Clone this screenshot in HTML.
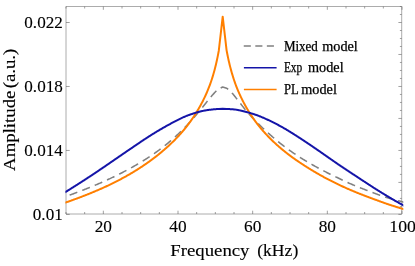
<!DOCTYPE html>
<html><head><meta charset="utf-8"><title>plot</title>
<style>html,body{margin:0;padding:0;background:#fff;}body{width:415px;height:266px;overflow:hidden;position:relative;font-family:"Liberation Serif",serif;}</style></head>
<body>
<svg width="415" height="266" viewBox="0 0 415 266" style="position:absolute;left:0;top:0;will-change:transform">
<rect x="0" y="0" width="415" height="266" fill="#fff"/>
<defs><clipPath id="c"><rect x="65.4" y="6.5" width="337.9" height="207.5"/></clipPath></defs>
<g stroke="#666" stroke-width="0.55" fill="none">
<path d="M66.0,6.5H401.7M66.0,214.0H401.7M66.0,6.5V214.0M401.7,6.5V214.0"/>
<path d="M66.00,214.0v-2.0M66.00,6.5v2.0M84.67,214.0v-2.0M84.67,6.5v2.0M103.33,214.0v-3.3M103.33,6.5v3.3M122.00,214.0v-2.0M122.00,6.5v2.0M140.67,214.0v-2.0M140.67,6.5v2.0M159.33,214.0v-2.0M159.33,6.5v2.0M178.00,214.0v-3.3M178.00,6.5v3.3M196.67,214.0v-2.0M196.67,6.5v2.0M215.33,214.0v-2.0M215.33,6.5v2.0M234.00,214.0v-2.0M234.00,6.5v2.0M252.66,214.0v-3.3M252.66,6.5v3.3M271.33,214.0v-2.0M271.33,6.5v2.0M290.00,214.0v-2.0M290.00,6.5v2.0M308.66,214.0v-2.0M308.66,6.5v2.0M327.33,214.0v-3.3M327.33,6.5v3.3M346.00,214.0v-2.0M346.00,6.5v2.0M364.66,214.0v-2.0M364.66,6.5v2.0M383.33,214.0v-2.0M383.33,6.5v2.0M402.00,214.0v-3.3M402.00,6.5v3.3M401.7,214.40h-3.3M66.0,214.40h3.7M401.7,206.41h-1.8M401.7,198.41h-1.8M401.7,190.42h-1.8M401.7,182.42h-3.3M401.7,174.42h-1.8M401.7,166.43h-1.8M401.7,158.43h-1.8M401.7,150.44h-3.3M66.0,150.44h3.7M401.7,142.44h-1.8M401.7,134.44h-1.8M401.7,126.45h-1.8M401.7,118.45h-3.3M401.7,110.46h-1.8M401.7,102.46h-1.8M401.7,94.46h-1.8M401.7,86.47h-3.3M66.0,86.47h3.7M401.7,78.47h-1.8M401.7,70.48h-1.8M401.7,62.48h-1.8M401.7,54.48h-3.3M401.7,46.49h-1.8M401.7,38.49h-1.8M401.7,30.50h-1.8M401.7,22.50h-3.3M66.0,22.50h3.7M401.7,14.50h-1.8M401.7,6.51h-1.8" stroke-width="0.62"/>
</g>
<g clip-path="url(#c)" fill="none" stroke-linejoin="round">
<path d="M65.00,196.76 L65.50,196.59 L66.00,196.42 L66.50,196.25 L67.00,196.08 L67.50,195.91 L68.00,195.73 L68.50,195.55 L69.00,195.37 L69.50,195.19 L70.00,195.01 L70.50,194.83 L71.00,194.64 L71.50,194.46 L72.00,194.27 L72.50,194.08 L73.00,193.90 L73.50,193.71 L74.00,193.52 L74.50,193.33 L75.00,193.14 L75.50,192.95 L76.00,192.76 L76.50,192.57 L77.00,192.38 L77.50,192.19 L78.00,192.00 L78.50,191.81 L79.00,191.63 L79.50,191.44 L80.00,191.25 L80.50,191.06 L81.00,190.87 L81.50,190.68 L82.00,190.48 L82.50,190.29 L83.00,190.10 L83.50,189.91 L84.00,189.71 L84.50,189.52 L85.00,189.32 L85.50,189.13 L86.00,188.93 L86.50,188.73 L87.00,188.54 L87.50,188.34 L88.00,188.14 L88.50,187.94 L89.00,187.74 L89.50,187.54 L90.00,187.34 L90.50,187.13 L91.00,186.93 L91.50,186.73 L92.00,186.52 L92.50,186.32 L93.00,186.11 L93.50,185.90 L94.00,185.69 L94.50,185.49 L95.00,185.28 L95.50,185.07 L96.00,184.85 L96.50,184.64 L97.00,184.43 L97.50,184.22 L98.00,184.00 L98.50,183.79 L99.00,183.57 L99.50,183.35 L100.00,183.13 L100.50,182.92 L101.00,182.70 L101.50,182.48 L102.00,182.26 L102.50,182.03 L103.00,181.81 L103.50,181.59 L104.00,181.36 L104.50,181.14 L105.00,180.91 L105.50,180.69 L106.00,180.46 L106.50,180.23 L107.00,180.00 L107.50,179.77 L108.00,179.54 L108.50,179.31 L109.00,179.07 L109.50,178.84 L110.00,178.61 L110.50,178.37 L111.00,178.13 L111.50,177.90 L112.00,177.66 L112.50,177.42 L113.00,177.18 L113.50,176.94 L114.00,176.70 L114.50,176.45 L115.00,176.21 L115.50,175.97 L116.00,175.72 L116.50,175.47 L117.00,175.23 L117.50,174.98 L118.00,174.73 L118.50,174.48 L119.00,174.23 L119.50,173.98 L120.00,173.72 L120.50,173.47 L121.00,173.21 L121.50,172.96 L122.00,172.70 L122.50,172.44 L123.00,172.19 L123.50,171.93 L124.00,171.66 L124.50,171.40 L125.00,171.14 L125.50,170.88 L126.00,170.61 L126.50,170.34 L127.00,170.08 L127.50,169.81 L128.00,169.54 L128.50,169.27 L129.00,169.00 L129.50,168.73 L130.00,168.45 L130.50,168.18 L131.00,167.90 L131.50,167.63 L132.00,167.35 L132.50,167.07 L133.00,166.79 L133.50,166.51 L134.00,166.22 L134.50,165.94 L135.00,165.65 L135.50,165.36 L136.00,165.08 L136.50,164.79 L137.00,164.50 L137.50,164.20 L138.00,163.91 L138.50,163.61 L139.00,163.32 L139.50,163.02 L140.00,162.72 L140.50,162.42 L141.00,162.11 L141.50,161.81 L142.00,161.50 L142.50,161.20 L143.00,160.89 L143.50,160.58 L144.00,160.27 L144.50,159.95 L145.00,159.64 L145.50,159.32 L146.00,159.00 L146.50,158.68 L147.00,158.36 L147.50,158.04 L148.00,157.71 L148.50,157.38 L149.00,157.05 L149.50,156.72 L150.00,156.39 L150.50,156.06 L151.00,155.72 L151.50,155.38 L152.00,155.04 L152.50,154.70 L153.00,154.36 L153.50,154.01 L154.00,153.66 L154.50,153.32 L155.00,152.96 L155.50,152.61 L156.00,152.25 L156.50,151.90 L157.00,151.54 L157.50,151.17 L158.00,150.81 L158.50,150.44 L159.00,150.08 L159.50,149.70 L160.00,149.33 L160.50,148.96 L161.00,148.58 L161.50,148.20 L162.00,147.82 L162.50,147.43 L163.00,147.05 L163.50,146.66 L164.00,146.26 L164.50,145.87 L165.00,145.47 L165.50,145.08 L166.00,144.67 L166.50,144.27 L167.00,143.86 L167.50,143.45 L168.00,143.04 L168.50,142.63 L169.00,142.21 L169.50,141.79 L170.00,141.37 L170.50,140.94 L171.00,140.51 L171.50,140.08 L172.00,139.65 L172.50,139.21 L173.00,138.77 L173.50,138.33 L174.00,137.88 L174.50,137.44 L175.00,136.98 L175.50,136.53 L176.00,136.07 L176.50,135.61 L177.00,135.15 L177.50,134.68 L178.00,134.21 L178.50,133.74 L179.00,133.26 L179.50,132.78 L180.00,132.30 L180.50,131.81 L181.00,131.33 L181.50,130.83 L182.00,130.34 L182.50,129.84 L183.00,129.34 L183.50,128.83 L184.00,128.32 L184.50,127.81 L185.00,127.30 L185.50,126.78 L186.00,126.26 L186.50,125.73 L187.00,125.20 L187.50,124.67 L188.00,124.13 L188.50,123.59 L189.00,123.05 L189.50,122.51 L190.00,121.96 L190.50,121.41 L191.00,120.85 L191.50,120.29 L192.00,119.73 L192.50,119.17 L193.00,118.60 L193.50,118.03 L194.00,117.45 L194.50,116.88 L195.00,116.30 L195.50,115.71 L196.00,115.13 L196.50,114.54 L197.00,113.95 L197.50,113.35 L198.00,112.76 L198.50,112.16 L199.00,111.56 L199.50,110.95 L200.00,110.35 L200.50,109.74 L201.00,109.13 L201.50,108.51 L202.00,107.90 L202.50,107.28 L203.00,106.65 L203.50,106.03 L204.00,105.41 L204.50,104.78 L205.00,104.15 L205.50,103.52 L206.00,102.90 L206.50,102.27 L207.00,101.64 L207.50,101.02 L208.00,100.40 L208.50,99.78 L209.00,99.16 L209.50,98.55 L210.00,97.95 L210.50,97.35 L211.00,96.75 L211.50,96.16 L212.00,95.58 L212.50,95.01 L213.00,94.45 L213.50,93.89 L214.00,93.35 L214.50,92.82 L215.00,92.29 L215.50,91.79 L216.00,91.29 L216.50,90.82 L217.00,90.36 L217.50,89.92 L218.00,89.50 L218.50,89.10 L218.80,88.87 L222.70,87.00 L226.60,88.27 L226.90,88.46 L227.20,88.65 L227.70,88.99 L228.20,89.35 L228.70,89.74 L229.20,90.16 L229.70,90.60 L230.20,91.07 L230.70,91.57 L231.20,92.09 L231.70,92.63 L232.20,93.19 L232.70,93.77 L233.20,94.36 L233.70,94.97 L234.20,95.58 L234.70,96.21 L235.20,96.84 L235.70,97.48 L236.20,98.11 L236.70,98.75 L237.20,99.39 L237.70,100.03 L238.20,100.66 L238.70,101.29 L239.20,101.93 L239.70,102.57 L240.20,103.21 L240.70,103.85 L241.20,104.48 L241.70,105.12 L242.20,105.76 L242.70,106.39 L243.20,107.02 L243.70,107.65 L244.20,108.27 L244.70,108.89 L245.20,109.50 L245.70,110.11 L246.20,110.70 L246.70,111.30 L247.20,111.88 L247.70,112.46 L248.20,113.04 L248.70,113.61 L249.20,114.17 L249.70,114.73 L250.20,115.28 L250.70,115.83 L251.20,116.38 L251.70,116.92 L252.20,117.45 L252.70,117.99 L253.20,118.52 L253.70,119.04 L254.20,119.56 L254.70,120.08 L255.20,120.60 L255.70,121.11 L256.20,121.62 L256.70,122.13 L257.20,122.64 L257.70,123.14 L258.20,123.65 L258.70,124.15 L259.20,124.64 L259.70,125.13 L260.20,125.62 L260.70,126.10 L261.20,126.58 L261.70,127.05 L262.20,127.52 L262.70,127.99 L263.20,128.46 L263.70,128.92 L264.20,129.38 L264.70,129.84 L265.20,130.29 L265.70,130.75 L266.20,131.20 L266.70,131.65 L267.20,132.10 L267.70,132.56 L268.20,133.01 L268.70,133.46 L269.20,133.91 L269.70,134.36 L270.20,134.81 L270.70,135.26 L271.20,135.70 L271.70,136.15 L272.20,136.59 L272.70,137.02 L273.20,137.46 L273.70,137.89 L274.20,138.32 L274.70,138.75 L275.20,139.17 L275.70,139.59 L276.20,140.01 L276.70,140.43 L277.20,140.84 L277.70,141.25 L278.20,141.66 L278.70,142.07 L279.20,142.47 L279.70,142.87 L280.20,143.27 L280.70,143.67 L281.20,144.06 L281.70,144.45 L282.20,144.84 L282.70,145.23 L283.20,145.61 L283.70,146.00 L284.20,146.38 L284.70,146.76 L285.20,147.13 L285.70,147.51 L286.20,147.88 L286.70,148.25 L287.20,148.61 L287.70,148.98 L288.20,149.34 L288.70,149.70 L289.20,150.06 L289.70,150.42 L290.20,150.77 L290.70,151.13 L291.20,151.48 L291.70,151.83 L292.20,152.17 L292.70,152.52 L293.20,152.86 L293.70,153.21 L294.20,153.54 L294.70,153.88 L295.20,154.22 L295.70,154.55 L296.20,154.89 L296.70,155.22 L297.20,155.55 L297.70,155.87 L298.20,156.20 L298.70,156.52 L299.20,156.84 L299.70,157.16 L300.20,157.48 L300.70,157.80 L301.20,158.12 L301.70,158.43 L302.20,158.74 L302.70,159.05 L303.20,159.36 L303.70,159.67 L304.20,159.98 L304.70,160.28 L305.20,160.58 L305.70,160.88 L306.20,161.18 L306.70,161.48 L307.20,161.78 L307.70,162.08 L308.20,162.37 L308.70,162.66 L309.20,162.95 L309.70,163.24 L310.20,163.53 L310.70,163.82 L311.20,164.11 L311.70,164.39 L312.20,164.68 L312.70,164.96 L313.20,165.24 L313.70,165.52 L314.20,165.80 L314.70,166.08 L315.20,166.35 L315.70,166.63 L316.20,166.91 L316.70,167.18 L317.20,167.45 L317.70,167.72 L318.20,167.99 L318.70,168.26 L319.20,168.53 L319.70,168.80 L320.20,169.07 L320.70,169.33 L321.20,169.60 L321.70,169.86 L322.20,170.12 L322.70,170.38 L323.20,170.64 L323.70,170.90 L324.20,171.16 L324.70,171.42 L325.20,171.67 L325.70,171.93 L326.20,172.18 L326.70,172.44 L327.20,172.69 L327.70,172.94 L328.20,173.19 L328.70,173.44 L329.20,173.69 L329.70,173.94 L330.20,174.19 L330.70,174.43 L331.20,174.68 L331.70,174.92 L332.20,175.16 L332.70,175.41 L333.20,175.65 L333.70,175.89 L334.20,176.13 L334.70,176.37 L335.20,176.61 L335.70,176.84 L336.20,177.08 L336.70,177.32 L337.20,177.56 L337.70,177.80 L338.20,178.05 L338.70,178.29 L339.20,178.53 L339.70,178.77 L340.20,179.01 L340.70,179.25 L341.20,179.49 L341.70,179.73 L342.20,179.97 L342.70,180.21 L343.20,180.45 L343.70,180.68 L344.20,180.92 L344.70,181.15 L345.20,181.39 L345.70,181.62 L346.20,181.85 L346.70,182.08 L347.20,182.31 L347.70,182.54 L348.20,182.76 L348.70,182.98 L349.20,183.21 L349.70,183.42 L350.20,183.64 L350.70,183.86 L351.20,184.07 L351.70,184.28 L352.20,184.50 L352.70,184.71 L353.20,184.92 L353.70,185.13 L354.20,185.34 L354.70,185.54 L355.20,185.75 L355.70,185.96 L356.20,186.16 L356.70,186.37 L357.20,186.57 L357.70,186.77 L358.20,186.97 L358.70,187.17 L359.20,187.37 L359.70,187.57 L360.20,187.77 L360.70,187.97 L361.20,188.17 L361.70,188.36 L362.20,188.56 L362.70,188.75 L363.20,188.95 L363.70,189.14 L364.20,189.34 L364.70,189.53 L365.20,189.72 L365.70,189.91 L366.20,190.10 L366.70,190.29 L367.20,190.49 L367.70,190.68 L368.20,190.87 L368.70,191.05 L369.20,191.24 L369.70,191.43 L370.20,191.62 L370.70,191.81 L371.20,192.00 L371.70,192.19 L372.20,192.38 L372.70,192.56 L373.20,192.75 L373.70,192.94 L374.20,193.13 L374.70,193.32 L375.20,193.50 L375.70,193.69 L376.20,193.88 L376.70,194.06 L377.20,194.25 L377.70,194.43 L378.20,194.62 L378.70,194.80 L379.20,194.98 L379.70,195.16 L380.20,195.34 L380.70,195.52 L381.20,195.69 L381.70,195.87 L382.20,196.04 L382.70,196.22 L383.20,196.39 L383.70,196.56 L384.20,196.72 L384.70,196.89 L385.20,197.05 L385.70,197.22 L386.20,197.37 L386.70,197.53 L387.20,197.68 L387.70,197.83 L388.20,197.98 L388.70,198.13 L389.20,198.27 L389.70,198.41 L390.20,198.55 L390.70,198.69 L391.20,198.83 L391.70,198.97 L392.20,199.11 L392.70,199.24 L393.20,199.38 L393.70,199.52 L394.20,199.65 L394.70,199.79 L395.20,199.92 L395.70,200.06 L396.20,200.19 L396.70,200.31 L397.20,200.44 L397.70,200.56 L398.20,200.69 L398.70,200.81 L399.20,200.94 L399.70,201.06 L400.20,201.19 L400.70,201.33 L401.20,201.46 L401.70,201.60 L402.20,201.75 L402.70,201.90 L403.20,202.05 L403.70,202.20 L404.20,202.34" stroke="#808080" stroke-width="1.55" stroke-dasharray="8.2 5.255" stroke-dashoffset="8.545"/>
<path d="M65.00,202.75 L65.50,202.58 L66.00,202.41 L66.50,202.23 L67.00,202.06 L67.50,201.88 L68.00,201.71 L68.50,201.53 L69.00,201.35 L69.50,201.18 L70.00,201.00 L70.50,200.82 L71.00,200.64 L71.50,200.46 L72.00,200.28 L72.50,200.10 L73.00,199.92 L73.50,199.74 L74.00,199.56 L74.50,199.38 L75.00,199.19 L75.50,199.01 L76.00,198.82 L76.50,198.64 L77.00,198.45 L77.50,198.27 L78.00,198.08 L78.50,197.89 L79.00,197.70 L79.50,197.52 L80.00,197.33 L80.50,197.14 L81.00,196.95 L81.50,196.75 L82.00,196.56 L82.50,196.37 L83.00,196.18 L83.50,195.98 L84.00,195.79 L84.50,195.59 L85.00,195.40 L85.50,195.20 L86.00,195.00 L86.50,194.81 L87.00,194.61 L87.50,194.41 L88.00,194.21 L88.50,194.01 L89.00,193.81 L89.50,193.60 L90.00,193.40 L90.50,193.20 L91.00,192.99 L91.50,192.79 L92.00,192.58 L92.50,192.38 L93.00,192.17 L93.50,191.96 L94.00,191.75 L94.50,191.54 L95.00,191.33 L95.50,191.12 L96.00,190.91 L96.50,190.70 L97.00,190.49 L97.50,190.27 L98.00,190.06 L98.50,189.84 L99.00,189.62 L99.50,189.41 L100.00,189.19 L100.50,188.97 L101.00,188.75 L101.50,188.53 L102.00,188.31 L102.50,188.08 L103.00,187.86 L103.50,187.63 L104.00,187.41 L104.50,187.18 L105.00,186.95 L105.50,186.72 L106.00,186.49 L106.50,186.25 L107.00,186.02 L107.50,185.79 L108.00,185.55 L108.50,185.31 L109.00,185.08 L109.50,184.84 L110.00,184.60 L110.50,184.35 L111.00,184.11 L111.50,183.87 L112.00,183.62 L112.50,183.38 L113.00,183.13 L113.50,182.88 L114.00,182.63 L114.50,182.38 L115.00,182.13 L115.50,181.88 L116.00,181.62 L116.50,181.37 L117.00,181.11 L117.50,180.85 L118.00,180.59 L118.50,180.33 L119.00,180.07 L119.50,179.81 L120.00,179.55 L120.50,179.28 L121.00,179.02 L121.50,178.75 L122.00,178.48 L122.50,178.21 L123.00,177.94 L123.50,177.67 L124.00,177.39 L124.50,177.12 L125.00,176.84 L125.50,176.56 L126.00,176.29 L126.50,176.01 L127.00,175.72 L127.50,175.44 L128.00,175.16 L128.50,174.87 L129.00,174.59 L129.50,174.30 L130.00,174.01 L130.50,173.72 L131.00,173.43 L131.50,173.13 L132.00,172.84 L132.50,172.54 L133.00,172.24 L133.50,171.94 L134.00,171.63 L134.50,171.33 L135.00,171.02 L135.50,170.71 L136.00,170.40 L136.50,170.09 L137.00,169.78 L137.50,169.46 L138.00,169.15 L138.50,168.83 L139.00,168.51 L139.50,168.18 L140.00,167.86 L140.50,167.53 L141.00,167.21 L141.50,166.88 L142.00,166.55 L142.50,166.21 L143.00,165.88 L143.50,165.54 L144.00,165.20 L144.50,164.86 L145.00,164.52 L145.50,164.18 L146.00,163.83 L146.50,163.49 L147.00,163.14 L147.50,162.79 L148.00,162.43 L148.50,162.08 L149.00,161.72 L149.50,161.37 L150.00,161.01 L150.50,160.64 L151.00,160.28 L151.50,159.91 L152.00,159.54 L152.50,159.17 L153.00,158.80 L153.50,158.42 L154.00,158.04 L154.50,157.66 L155.00,157.28 L155.50,156.89 L156.00,156.50 L156.50,156.11 L157.00,155.72 L157.50,155.32 L158.00,154.92 L158.50,154.52 L159.00,154.11 L159.50,153.71 L160.00,153.30 L160.50,152.89 L161.00,152.47 L161.50,152.06 L162.00,151.64 L162.50,151.21 L163.00,150.79 L163.50,150.36 L164.00,149.93 L164.50,149.50 L165.00,149.06 L165.50,148.62 L166.00,148.18 L166.50,147.74 L167.00,147.29 L167.50,146.84 L168.00,146.39 L168.50,145.93 L169.00,145.47 L169.50,145.01 L170.00,144.54 L170.50,144.08 L171.00,143.60 L171.50,143.13 L172.00,142.65 L172.50,142.16 L173.00,141.67 L173.50,141.18 L174.00,140.69 L174.50,140.19 L175.00,139.68 L175.50,139.17 L176.00,138.66 L176.50,138.14 L177.00,137.61 L177.50,137.09 L178.00,136.55 L178.50,136.02 L179.00,135.47 L179.50,134.92 L180.00,134.37 L180.50,133.81 L181.00,133.25 L181.50,132.68 L182.00,132.10 L182.50,131.52 L183.00,130.93 L183.50,130.34 L184.00,129.74 L184.50,129.14 L185.00,128.52 L185.50,127.90 L186.00,127.28 L186.50,126.65 L187.00,126.01 L187.50,125.36 L188.00,124.70 L188.50,124.04 L189.00,123.37 L189.50,122.69 L190.00,122.01 L190.50,121.31 L191.00,120.61 L191.50,119.90 L192.00,119.18 L192.50,118.45 L193.00,117.71 L193.50,116.96 L194.00,116.20 L194.50,115.43 L195.00,114.65 L195.50,113.86 L196.00,113.06 L196.50,112.25 L197.00,111.44 L197.50,110.61 L198.00,109.78 L198.50,108.93 L199.00,108.07 L199.50,107.20 L200.00,106.32 L200.50,105.42 L201.00,104.51 L201.50,103.58 L202.00,102.63 L202.50,101.67 L203.00,100.69 L203.50,99.68 L204.00,98.66 L204.50,97.62 L205.00,96.55 L205.50,95.47 L206.00,94.36 L206.50,93.23 L207.00,92.08 L207.50,90.90 L208.00,89.69 L208.50,88.46 L209.00,87.19 L209.50,85.88 L210.00,84.54 L210.50,83.16 L211.00,81.73 L211.50,80.26 L212.00,78.73 L212.50,77.15 L213.00,75.50 L213.50,73.80 L214.00,72.03 L214.50,70.18 L215.00,68.27 L215.50,66.28 L216.00,64.20 L216.50,62.04 L217.00,59.78 L217.50,57.41 L218.00,54.92 L218.50,52.31 L218.80,50.66 L222.70,16.70 L226.60,50.37 L226.90,51.99 L227.20,53.55 L227.70,56.04 L228.20,58.41 L228.70,60.67 L229.20,62.83 L229.70,64.90 L230.20,66.88 L230.70,68.79 L231.20,70.63 L231.70,72.41 L232.20,74.12 L232.70,75.78 L233.20,77.39 L233.70,78.94 L234.20,80.45 L234.70,81.92 L235.20,83.34 L235.70,84.72 L236.20,86.05 L236.70,87.35 L237.20,88.61 L237.70,89.83 L238.20,91.02 L238.70,92.18 L239.20,93.32 L239.70,94.43 L240.20,95.52 L240.70,96.59 L241.20,97.63 L241.70,98.67 L242.20,99.68 L242.70,100.68 L243.20,101.67 L243.70,102.63 L244.20,103.58 L244.70,104.51 L245.20,105.42 L245.70,106.33 L246.20,107.21 L246.70,108.08 L247.20,108.94 L247.70,109.79 L248.20,110.62 L248.70,111.44 L249.20,112.25 L249.70,113.05 L250.20,113.83 L250.70,114.61 L251.20,115.37 L251.70,116.12 L252.20,116.86 L252.70,117.60 L253.20,118.32 L253.70,119.03 L254.20,119.74 L254.70,120.43 L255.20,121.12 L255.70,121.80 L256.20,122.47 L256.70,123.13 L257.20,123.78 L257.70,124.43 L258.20,125.07 L258.70,125.70 L259.20,126.32 L259.70,126.93 L260.20,127.54 L260.70,128.14 L261.20,128.74 L261.70,129.33 L262.20,129.91 L262.70,130.49 L263.20,131.06 L263.70,131.62 L264.20,132.18 L264.70,132.73 L265.20,133.28 L265.70,133.82 L266.20,134.36 L266.70,134.89 L267.20,135.42 L267.70,135.95 L268.20,136.46 L268.70,136.98 L269.20,137.49 L269.70,138.00 L270.20,138.50 L270.70,139.00 L271.20,139.49 L271.70,139.99 L272.20,140.47 L272.70,140.96 L273.20,141.44 L273.70,141.92 L274.20,142.39 L274.70,142.86 L275.20,143.32 L275.70,143.78 L276.20,144.24 L276.70,144.69 L277.20,145.14 L277.70,145.59 L278.20,146.03 L278.70,146.47 L279.20,146.90 L279.70,147.34 L280.20,147.77 L280.70,148.19 L281.20,148.62 L281.70,149.04 L282.20,149.45 L282.70,149.87 L283.20,150.28 L283.70,150.69 L284.20,151.09 L284.70,151.50 L285.20,151.90 L285.70,152.29 L286.20,152.69 L286.70,153.08 L287.20,153.47 L287.70,153.85 L288.20,154.24 L288.70,154.62 L289.20,155.00 L289.70,155.38 L290.20,155.75 L290.70,156.12 L291.20,156.49 L291.70,156.86 L292.20,157.23 L292.70,157.59 L293.20,157.95 L293.70,158.31 L294.20,158.67 L294.70,159.02 L295.20,159.37 L295.70,159.72 L296.20,160.07 L296.70,160.42 L297.20,160.76 L297.70,161.11 L298.20,161.45 L298.70,161.79 L299.20,162.12 L299.70,162.46 L300.20,162.79 L300.70,163.12 L301.20,163.46 L301.70,163.78 L302.20,164.11 L302.70,164.44 L303.20,164.77 L303.70,165.09 L304.20,165.41 L304.70,165.73 L305.20,166.05 L305.70,166.37 L306.20,166.69 L306.70,167.01 L307.20,167.32 L307.70,167.64 L308.20,167.95 L308.70,168.26 L309.20,168.57 L309.70,168.88 L310.20,169.19 L310.70,169.49 L311.20,169.80 L311.70,170.10 L312.20,170.40 L312.70,170.70 L313.20,171.00 L313.70,171.30 L314.20,171.60 L314.70,171.90 L315.20,172.19 L315.70,172.48 L316.20,172.78 L316.70,173.07 L317.20,173.36 L317.70,173.65 L318.20,173.93 L318.70,174.22 L319.20,174.50 L319.70,174.79 L320.20,175.07 L320.70,175.35 L321.20,175.63 L321.70,175.91 L322.20,176.18 L322.70,176.46 L323.20,176.73 L323.70,177.01 L324.20,177.28 L324.70,177.55 L325.20,177.82 L325.70,178.08 L326.20,178.35 L326.70,178.62 L327.20,178.88 L327.70,179.14 L328.20,179.40 L328.70,179.66 L329.20,179.92 L329.70,180.18 L330.20,180.43 L330.70,180.69 L331.20,180.94 L331.70,181.19 L332.20,181.45 L332.70,181.70 L333.20,181.95 L333.70,182.20 L334.20,182.44 L334.70,182.69 L335.20,182.94 L335.70,183.18 L336.20,183.43 L336.70,183.67 L337.20,183.91 L337.70,184.15 L338.20,184.39 L338.70,184.63 L339.20,184.87 L339.70,185.11 L340.20,185.35 L340.70,185.58 L341.20,185.82 L341.70,186.05 L342.20,186.28 L342.70,186.51 L343.20,186.74 L343.70,186.97 L344.20,187.20 L344.70,187.43 L345.20,187.65 L345.70,187.88 L346.20,188.10 L346.70,188.32 L347.20,188.55 L347.70,188.77 L348.20,188.99 L348.70,189.20 L349.20,189.42 L349.70,189.64 L350.20,189.85 L350.70,190.06 L351.20,190.28 L351.70,190.49 L352.20,190.70 L352.70,190.91 L353.20,191.12 L353.70,191.33 L354.20,191.53 L354.70,191.74 L355.20,191.95 L355.70,192.15 L356.20,192.36 L356.70,192.56 L357.20,192.76 L357.70,192.96 L358.20,193.16 L358.70,193.37 L359.20,193.57 L359.70,193.76 L360.20,193.96 L360.70,194.16 L361.20,194.36 L361.70,194.55 L362.20,194.75 L362.70,194.94 L363.20,195.14 L363.70,195.33 L364.20,195.52 L364.70,195.72 L365.20,195.91 L365.70,196.10 L366.20,196.29 L366.70,196.48 L367.20,196.67 L367.70,196.86 L368.20,197.05 L368.70,197.23 L369.20,197.42 L369.70,197.61 L370.20,197.79 L370.70,197.98 L371.20,198.16 L371.70,198.35 L372.20,198.53 L372.70,198.72 L373.20,198.90 L373.70,199.08 L374.20,199.27 L374.70,199.45 L375.20,199.63 L375.70,199.81 L376.20,199.99 L376.70,200.18 L377.20,200.36 L377.70,200.54 L378.20,200.72 L378.70,200.91 L379.20,201.09 L379.70,201.27 L380.20,201.45 L380.70,201.63 L381.20,201.82 L381.70,202.00 L382.20,202.18 L382.70,202.36 L383.20,202.54 L383.70,202.71 L384.20,202.89 L384.70,203.07 L385.20,203.24 L385.70,203.42 L386.20,203.59 L386.70,203.77 L387.20,203.94 L387.70,204.11 L388.20,204.28 L388.70,204.44 L389.20,204.61 L389.70,204.78 L390.20,204.94 L390.70,205.10 L391.20,205.26 L391.70,205.43 L392.20,205.59 L392.70,205.75 L393.20,205.91 L393.70,206.07 L394.20,206.23 L394.70,206.39 L395.20,206.55 L395.70,206.70 L396.20,206.86 L396.70,207.02 L397.20,207.18 L397.70,207.33 L398.20,207.49 L398.70,207.64 L399.20,207.80 L399.70,207.95 L400.20,208.11 L400.70,208.26 L401.20,208.42 L401.70,208.57 L402.20,208.72 L402.70,208.88 L403.20,209.03 L403.70,209.18 L404.20,209.33" stroke="#ff7f00" stroke-width="2.0" stroke-linejoin="round"/>
<path d="M65.00,192.34 L65.50,192.03 L66.00,191.72 L66.50,191.41 L67.00,191.09 L67.50,190.78 L68.00,190.47 L68.50,190.16 L69.00,189.85 L69.50,189.54 L70.00,189.22 L70.50,188.91 L71.00,188.60 L71.50,188.28 L72.00,187.97 L72.50,187.65 L73.00,187.34 L73.50,187.02 L74.00,186.71 L74.50,186.39 L75.00,186.07 L75.50,185.76 L76.00,185.44 L76.50,185.12 L77.00,184.80 L77.50,184.48 L78.00,184.17 L78.50,183.85 L79.00,183.53 L79.50,183.21 L80.00,182.88 L80.50,182.56 L81.00,182.24 L81.50,181.92 L82.00,181.60 L82.50,181.28 L83.00,180.95 L83.50,180.63 L84.00,180.30 L84.50,179.98 L85.00,179.66 L85.50,179.33 L86.00,179.00 L86.50,178.68 L87.00,178.35 L87.50,178.02 L88.00,177.70 L88.50,177.37 L89.00,177.04 L89.50,176.71 L90.00,176.38 L90.50,176.05 L91.00,175.72 L91.50,175.39 L92.00,175.06 L92.50,174.73 L93.00,174.40 L93.50,174.06 L94.00,173.73 L94.50,173.40 L95.00,173.06 L95.50,172.73 L96.00,172.39 L96.50,172.06 L97.00,171.72 L97.50,171.39 L98.00,171.05 L98.50,170.71 L99.00,170.38 L99.50,170.04 L100.00,169.70 L100.50,169.36 L101.00,169.02 L101.50,168.68 L102.00,168.34 L102.50,168.00 L103.00,167.66 L103.50,167.32 L104.00,166.98 L104.50,166.64 L105.00,166.30 L105.50,165.96 L106.00,165.62 L106.50,165.27 L107.00,164.93 L107.50,164.59 L108.00,164.25 L108.50,163.90 L109.00,163.56 L109.50,163.22 L110.00,162.87 L110.50,162.53 L111.00,162.19 L111.50,161.84 L112.00,161.50 L112.50,161.16 L113.00,160.81 L113.50,160.47 L114.00,160.12 L114.50,159.78 L115.00,159.44 L115.50,159.09 L116.00,158.75 L116.50,158.40 L117.00,158.06 L117.50,157.72 L118.00,157.37 L118.50,157.03 L119.00,156.68 L119.50,156.34 L120.00,156.00 L120.50,155.65 L121.00,155.31 L121.50,154.97 L122.00,154.62 L122.50,154.28 L123.00,153.94 L123.50,153.59 L124.00,153.25 L124.50,152.91 L125.00,152.57 L125.50,152.23 L126.00,151.88 L126.50,151.54 L127.00,151.20 L127.50,150.86 L128.00,150.52 L128.50,150.18 L129.00,149.84 L129.50,149.50 L130.00,149.16 L130.50,148.83 L131.00,148.49 L131.50,148.15 L132.00,147.81 L132.50,147.47 L133.00,147.13 L133.50,146.79 L134.00,146.45 L134.50,146.11 L135.00,145.77 L135.50,145.43 L136.00,145.09 L136.50,144.75 L137.00,144.41 L137.50,144.07 L138.00,143.73 L138.50,143.39 L139.00,143.05 L139.50,142.71 L140.00,142.38 L140.50,142.04 L141.00,141.70 L141.50,141.37 L142.00,141.03 L142.50,140.70 L143.00,140.36 L143.50,140.03 L144.00,139.70 L144.50,139.37 L145.00,139.04 L145.50,138.71 L146.00,138.38 L146.50,138.05 L147.00,137.73 L147.50,137.40 L148.00,137.08 L148.50,136.76 L149.00,136.43 L149.50,136.11 L150.00,135.80 L150.50,135.48 L151.00,135.16 L151.50,134.85 L152.00,134.53 L152.50,134.22 L153.00,133.91 L153.50,133.60 L154.00,133.29 L154.50,132.98 L155.00,132.68 L155.50,132.37 L156.00,132.07 L156.50,131.76 L157.00,131.46 L157.50,131.16 L158.00,130.86 L158.50,130.56 L159.00,130.27 L159.50,129.97 L160.00,129.68 L160.50,129.38 L161.00,129.09 L161.50,128.80 L162.00,128.51 L162.50,128.22 L163.00,127.93 L163.50,127.65 L164.00,127.36 L164.50,127.08 L165.00,126.79 L165.50,126.51 L166.00,126.23 L166.50,125.95 L167.00,125.67 L167.50,125.40 L168.00,125.12 L168.50,124.85 L169.00,124.57 L169.50,124.30 L170.00,124.03 L170.50,123.76 L171.00,123.49 L171.50,123.22 L172.00,122.95 L172.50,122.68 L173.00,122.41 L173.50,122.14 L174.00,121.88 L174.50,121.61 L175.00,121.34 L175.50,121.08 L176.00,120.82 L176.50,120.56 L177.00,120.30 L177.50,120.05 L178.00,119.79 L178.50,119.54 L179.00,119.29 L179.50,119.04 L180.00,118.80 L180.50,118.56 L181.00,118.32 L181.50,118.09 L182.00,117.86 L182.50,117.63 L183.00,117.40 L183.50,117.18 L184.00,116.97 L184.50,116.76 L185.00,116.55 L185.50,116.34 L186.00,116.14 L186.50,115.94 L187.00,115.75 L187.50,115.55 L188.00,115.36 L188.50,115.18 L189.00,114.99 L189.50,114.81 L190.00,114.62 L190.50,114.45 L191.00,114.27 L191.50,114.10 L192.00,113.93 L192.50,113.76 L193.00,113.59 L193.50,113.43 L194.00,113.27 L194.50,113.11 L195.00,112.96 L195.50,112.81 L196.00,112.66 L196.50,112.51 L197.00,112.36 L197.50,112.22 L198.00,112.08 L198.50,111.95 L199.00,111.81 L199.50,111.68 L200.00,111.55 L200.50,111.42 L201.00,111.30 L201.50,111.19 L202.00,111.08 L202.50,110.97 L203.00,110.87 L203.50,110.77 L204.00,110.67 L204.50,110.58 L205.00,110.49 L205.50,110.41 L206.00,110.32 L206.50,110.24 L207.00,110.15 L207.50,110.08 L208.00,110.00 L208.50,109.93 L209.00,109.86 L209.50,109.80 L210.00,109.74 L210.50,109.68 L211.00,109.63 L211.50,109.57 L212.00,109.52 L212.50,109.47 L213.00,109.42 L213.50,109.37 L214.00,109.32 L214.50,109.27 L215.00,109.22 L215.50,109.17 L216.00,109.13 L216.50,109.08 L217.00,109.04 L217.50,109.01 L218.00,108.97 L218.50,108.94 L218.80,108.92 L222.70,108.80 L226.60,108.90 L226.90,108.91 L227.20,108.93 L227.70,108.96 L228.20,108.99 L228.70,109.02 L229.20,109.06 L229.70,109.10 L230.20,109.15 L230.70,109.19 L231.20,109.22 L231.70,109.26 L232.20,109.30 L232.70,109.34 L233.20,109.37 L233.70,109.42 L234.20,109.46 L234.70,109.51 L235.20,109.57 L235.70,109.63 L236.20,109.70 L236.70,109.78 L237.20,109.86 L237.70,109.96 L238.20,110.05 L238.70,110.15 L239.20,110.25 L239.70,110.36 L240.20,110.47 L240.70,110.58 L241.20,110.69 L241.70,110.81 L242.20,110.93 L242.70,111.05 L243.20,111.18 L243.70,111.30 L244.20,111.43 L244.70,111.56 L245.20,111.69 L245.70,111.83 L246.20,111.96 L246.70,112.09 L247.20,112.23 L247.70,112.36 L248.20,112.50 L248.70,112.64 L249.20,112.78 L249.70,112.92 L250.20,113.06 L250.70,113.21 L251.20,113.35 L251.70,113.50 L252.20,113.65 L252.70,113.81 L253.20,113.96 L253.70,114.12 L254.20,114.28 L254.70,114.44 L255.20,114.61 L255.70,114.78 L256.20,114.95 L256.70,115.13 L257.20,115.31 L257.70,115.49 L258.20,115.68 L258.70,115.87 L259.20,116.06 L259.70,116.26 L260.20,116.47 L260.70,116.67 L261.20,116.88 L261.70,117.09 L262.20,117.30 L262.70,117.51 L263.20,117.73 L263.70,117.95 L264.20,118.17 L264.70,118.39 L265.20,118.61 L265.70,118.83 L266.20,119.06 L266.70,119.29 L267.20,119.52 L267.70,119.75 L268.20,119.98 L268.70,120.22 L269.20,120.46 L269.70,120.69 L270.20,120.93 L270.70,121.18 L271.20,121.42 L271.70,121.67 L272.20,121.91 L272.70,122.16 L273.20,122.41 L273.70,122.66 L274.20,122.92 L274.70,123.17 L275.20,123.43 L275.70,123.68 L276.20,123.94 L276.70,124.21 L277.20,124.47 L277.70,124.73 L278.20,125.00 L278.70,125.26 L279.20,125.53 L279.70,125.80 L280.20,126.07 L280.70,126.35 L281.20,126.62 L281.70,126.90 L282.20,127.18 L282.70,127.46 L283.20,127.75 L283.70,128.03 L284.20,128.32 L284.70,128.61 L285.20,128.90 L285.70,129.20 L286.20,129.49 L286.70,129.79 L287.20,130.09 L287.70,130.39 L288.20,130.69 L288.70,131.00 L289.20,131.30 L289.70,131.61 L290.20,131.92 L290.70,132.22 L291.20,132.54 L291.70,132.85 L292.20,133.16 L292.70,133.47 L293.20,133.79 L293.70,134.11 L294.20,134.42 L294.70,134.74 L295.20,135.06 L295.70,135.38 L296.20,135.70 L296.70,136.02 L297.20,136.34 L297.70,136.67 L298.20,136.99 L298.70,137.31 L299.20,137.64 L299.70,137.96 L300.20,138.29 L300.70,138.61 L301.20,138.94 L301.70,139.26 L302.20,139.59 L302.70,139.92 L303.20,140.25 L303.70,140.58 L304.20,140.91 L304.70,141.24 L305.20,141.58 L305.70,141.91 L306.20,142.24 L306.70,142.58 L307.20,142.91 L307.70,143.25 L308.20,143.58 L308.70,143.92 L309.20,144.26 L309.70,144.60 L310.20,144.93 L310.70,145.27 L311.20,145.61 L311.70,145.95 L312.20,146.29 L312.70,146.63 L313.20,146.97 L313.70,147.32 L314.20,147.66 L314.70,148.00 L315.20,148.34 L315.70,148.69 L316.20,149.03 L316.70,149.37 L317.20,149.72 L317.70,150.06 L318.20,150.40 L318.70,150.75 L319.20,151.09 L319.70,151.44 L320.20,151.78 L320.70,152.13 L321.20,152.48 L321.70,152.82 L322.20,153.17 L322.70,153.52 L323.20,153.86 L323.70,154.21 L324.20,154.56 L324.70,154.91 L325.20,155.26 L325.70,155.61 L326.20,155.96 L326.70,156.31 L327.20,156.66 L327.70,157.01 L328.20,157.36 L328.70,157.71 L329.20,158.06 L329.70,158.41 L330.20,158.75 L330.70,159.10 L331.20,159.45 L331.70,159.80 L332.20,160.15 L332.70,160.50 L333.20,160.85 L333.70,161.20 L334.20,161.54 L334.70,161.89 L335.20,162.24 L335.70,162.58 L336.20,162.93 L336.70,163.27 L337.20,163.62 L337.70,163.96 L338.20,164.30 L338.70,164.65 L339.20,164.99 L339.70,165.33 L340.20,165.67 L340.70,166.01 L341.20,166.35 L341.70,166.69 L342.20,167.02 L342.70,167.36 L343.20,167.70 L343.70,168.03 L344.20,168.36 L344.70,168.70 L345.20,169.03 L345.70,169.36 L346.20,169.70 L346.70,170.03 L347.20,170.36 L347.70,170.69 L348.20,171.02 L348.70,171.35 L349.20,171.68 L349.70,172.01 L350.20,172.34 L350.70,172.67 L351.20,173.00 L351.70,173.32 L352.20,173.65 L352.70,173.98 L353.20,174.31 L353.70,174.64 L354.20,174.96 L354.70,175.29 L355.20,175.62 L355.70,175.95 L356.20,176.28 L356.70,176.60 L357.20,176.93 L357.70,177.26 L358.20,177.59 L358.70,177.92 L359.20,178.25 L359.70,178.58 L360.20,178.91 L360.70,179.24 L361.20,179.57 L361.70,179.89 L362.20,180.22 L362.70,180.55 L363.20,180.88 L363.70,181.21 L364.20,181.54 L364.70,181.87 L365.20,182.20 L365.70,182.53 L366.20,182.85 L366.70,183.18 L367.20,183.51 L367.70,183.83 L368.20,184.16 L368.70,184.49 L369.20,184.81 L369.70,185.14 L370.20,185.46 L370.70,185.79 L371.20,186.11 L371.70,186.43 L372.20,186.75 L372.70,187.08 L373.20,187.40 L373.70,187.72 L374.20,188.04 L374.70,188.36 L375.20,188.67 L375.70,188.99 L376.20,189.31 L376.70,189.62 L377.20,189.94 L377.70,190.25 L378.20,190.57 L378.70,190.88 L379.20,191.19 L379.70,191.50 L380.20,191.81 L380.70,192.12 L381.20,192.43 L381.70,192.74 L382.20,193.04 L382.70,193.35 L383.20,193.66 L383.70,193.96 L384.20,194.27 L384.70,194.57 L385.20,194.88 L385.70,195.18 L386.20,195.48 L386.70,195.78 L387.20,196.08 L387.70,196.38 L388.20,196.68 L388.70,196.98 L389.20,197.28 L389.70,197.58 L390.20,197.88 L390.70,198.17 L391.20,198.47 L391.70,198.76 L392.20,199.06 L392.70,199.35 L393.20,199.64 L393.70,199.94 L394.20,200.23 L394.70,200.52 L395.20,200.81 L395.70,201.10 L396.20,201.38 L396.70,201.66 L397.20,201.94 L397.70,202.22 L398.20,202.49 L398.70,202.77 L399.20,203.04 L399.70,203.32 L400.20,203.59 L400.70,203.87 L401.20,204.14 L401.70,204.42 L402.20,204.70 L402.70,204.98 L403.20,205.26 L403.70,205.54 L404.20,205.82" stroke="#1414a8" stroke-width="2.0"/>
</g>
<g fill="none">
<path d="M243.75,46.0H276.6" stroke="#808080" stroke-width="1.55" stroke-dasharray="7.1 4.45"/>
<path d="M243.9,67.7H276.6" stroke="#1414a8" stroke-width="1.6"/>
<path d="M243.9,89.55H276.6" stroke="#ff7f00" stroke-width="1.6"/>
</g>
<g font-family="'Liberation Serif', serif" fill="#000" stroke="#000" stroke-width="0.12">
<text x="24.299999999999997" y="28.0" font-size="17.6" text-anchor="start" textLength="38.5" lengthAdjust="spacingAndGlyphs" xml:space="preserve">0.022</text>
<text x="24.299999999999997" y="91.97" font-size="17.6" text-anchor="start" textLength="38.5" lengthAdjust="spacingAndGlyphs" xml:space="preserve">0.018</text>
<text x="24.299999999999997" y="155.94" font-size="17.6" text-anchor="start" textLength="38.5" lengthAdjust="spacingAndGlyphs" xml:space="preserve">0.014</text>
<text x="32.8" y="219.9" font-size="17.6" text-anchor="start" textLength="30.0" lengthAdjust="spacingAndGlyphs" xml:space="preserve">0.01</text>
<text x="94.68" y="231.5" font-size="17.6" text-anchor="start" textLength="17.3" lengthAdjust="spacingAndGlyphs" xml:space="preserve">20</text>
<text x="169.35" y="231.5" font-size="17.6" text-anchor="start" textLength="17.3" lengthAdjust="spacingAndGlyphs" xml:space="preserve">40</text>
<text x="244.01" y="231.5" font-size="17.6" text-anchor="start" textLength="17.3" lengthAdjust="spacingAndGlyphs" xml:space="preserve">60</text>
<text x="318.68" y="231.5" font-size="17.6" text-anchor="start" textLength="17.3" lengthAdjust="spacingAndGlyphs" xml:space="preserve">80</text>
<text x="389.3" y="231.5" font-size="17.6" text-anchor="start" textLength="26.6" lengthAdjust="spacingAndGlyphs" xml:space="preserve">100</text>
<text x="170.3" y="255.9" font-size="17.3" text-anchor="start" textLength="79.2" lengthAdjust="spacingAndGlyphs" xml:space="preserve">Frequency</text>
<text x="257.2" y="255.9" font-size="17.3" text-anchor="start" textLength="41.1" lengthAdjust="spacingAndGlyphs" xml:space="preserve">(kHz)</text>
<g transform="translate(15,170.9) rotate(-90)"><text x="0" y="0" font-size="17.3" textLength="80.3" lengthAdjust="spacingAndGlyphs">Amplitude</text><text x="82.6" y="0" font-size="17.3" textLength="39.6" lengthAdjust="spacingAndGlyphs">(a.u.)</text></g>
<text x="283.9" y="50.6" font-size="13.6" text-anchor="start" textLength="34.0" lengthAdjust="spacingAndGlyphs" stroke-width="0.25" xml:space="preserve">Mixed</text>
<text x="322.2" y="50.6" font-size="13.6" text-anchor="start" textLength="35.6" lengthAdjust="spacingAndGlyphs" stroke-width="0.25" xml:space="preserve">model</text>
<text x="283.9" y="72.0" font-size="13.6" text-anchor="start" textLength="18.4" lengthAdjust="spacingAndGlyphs" stroke-width="0.25" xml:space="preserve">Exp</text>
<text x="308.0" y="72.0" font-size="13.6" text-anchor="start" textLength="35.6" lengthAdjust="spacingAndGlyphs" stroke-width="0.25" xml:space="preserve">model</text>
<text x="283.9" y="93.5" font-size="13.6" text-anchor="start" textLength="14.8" lengthAdjust="spacingAndGlyphs" stroke-width="0.25" xml:space="preserve">PL</text>
<text x="301.3" y="93.5" font-size="13.6" text-anchor="start" textLength="35.6" lengthAdjust="spacingAndGlyphs" stroke-width="0.25" xml:space="preserve">model</text>
</g>
</svg>
</body></html>
